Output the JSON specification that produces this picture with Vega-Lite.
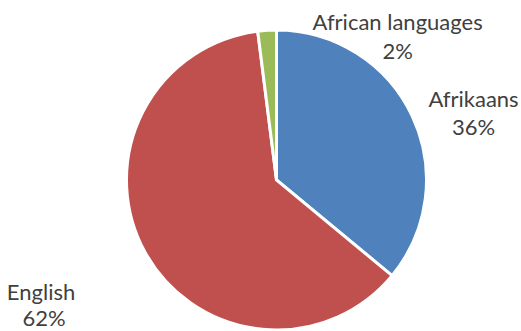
{
  "$schema": "https://vega.github.io/schema/vega-lite/v6.json",
  "autosize": {"type": "none"},
  "width": 489,
  "height": 302,
  "padding": {"left": 32, "top": 29, "right": 0, "bottom": 0},
  "background": "white",
  "config": {"view": {"stroke": null}, "text": {"font": "Lato", "fontSize": 22, "color": "#404040", "baseline": "alphabetic", "align": "center"}},
  "data": {"values": [
    {"language": "Afrikaans", "share": 0.36, "order": 1},
    {"language": "English", "share": 0.62, "order": 2},
    {"language": "African languages", "share": 0.02, "order": 3}
  ]},
  "encoding": {
    "theta": {"field": "share", "type": "quantitative", "stack": true},
    "order": {"field": "order", "type": "quantitative"}
  },
  "layer": [
    {
      "mark": {"type": "arc", "outerRadius": 150, "stroke": "white", "strokeWidth": 3},
      "encoding": {
        "color": {"field": "language", "type": "nominal", "legend": null,
          "scale": {"domain": ["Afrikaans", "English", "African languages"], "range": ["#4F81BD", "#C0504D", "#9BBB59"]}}
      }
    },
    {
      "mark": {"type": "text", "radius": 142, "dx": 130, "dy": -8},
      "encoding": {"text": {"condition": {"test": "datum.language === 'African languages'", "field": "language", "type": "nominal"}, "value": ""}}
    },
    {
      "mark": {"type": "text", "radius": 142, "dx": 130, "dy": 21},
      "encoding": {"text": {"condition": {"test": "datum.language === 'African languages'", "field": "share", "type": "quantitative", "format": ".0%"}, "value": ""}}
    },
    {
      "mark": {"type": "text", "radius": 210, "dx": 7, "dy": 16},
      "encoding": {"text": {"condition": {"test": "datum.language === 'Afrikaans'", "field": "language", "type": "nominal"}, "value": ""}}
    },
    {
      "mark": {"type": "text", "radius": 210, "dx": 7, "dy": 44},
      "encoding": {"text": {"condition": {"test": "datum.language === 'Afrikaans'", "field": "share", "type": "quantitative", "format": ".0%"}, "value": ""}}
    },
    {
      "mark": {"type": "text", "radius": 263, "dx": -5, "dy": -7},
      "encoding": {"text": {"condition": {"test": "datum.language === 'English'", "field": "language", "type": "nominal"}, "value": ""}}
    },
    {
      "mark": {"type": "text", "radius": 263, "dx": -2, "dy": 19},
      "encoding": {"text": {"condition": {"test": "datum.language === 'English'", "field": "share", "type": "quantitative", "format": ".0%"}, "value": ""}}
    }
  ]
}
